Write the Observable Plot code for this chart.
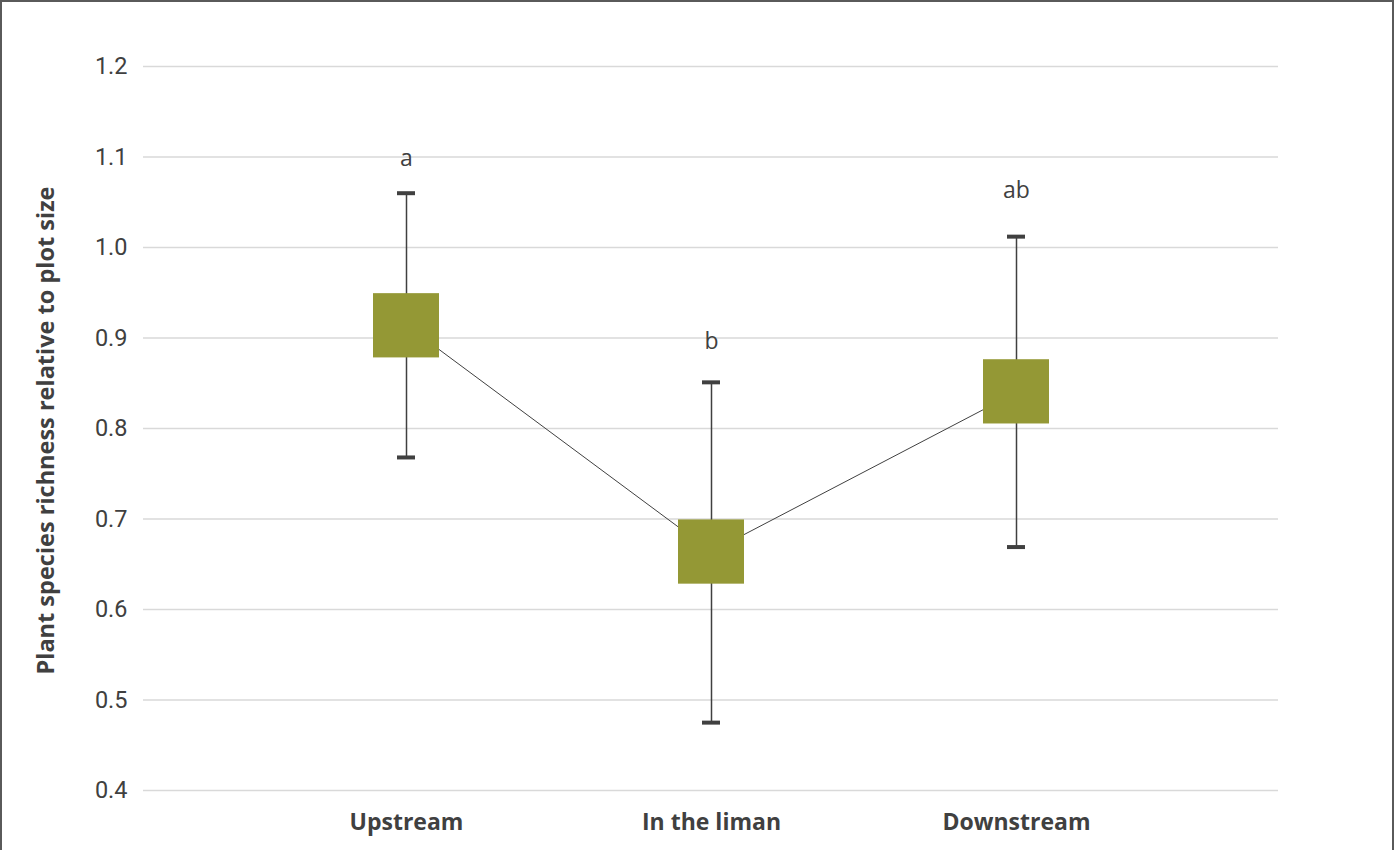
<!DOCTYPE html>
<html>
<head>
<meta charset="utf-8">
<script src="https://cdn.jsdelivr.net/npm/d3@7"></script>
<script src="https://cdn.jsdelivr.net/npm/@observablehq/plot@0.6"></script>
<style>
  html, body { margin: 0; padding: 0; background: #fff; }
  #frame { position: absolute; left: 0; top: 0; width: 1394px; height: 900px; box-sizing: border-box; border: 2px solid #5a5a5a; pointer-events: none; }
  #chart { position: absolute; left: 0; top: 0; }
</style>
</head>
<body>
<div id="chart"></div>
<div id="frame"></div>
<script>
const categories = ["Upstream", "In the liman", "Downstream"];
const means      = [0.914, 0.664, 0.840];
const boxHigh    = [0.949, 0.699, 0.876];
const boxLow     = [0.878, 0.628, 0.805];
const whiskerHigh = [1.060, 0.851, 1.012];
const whiskerLow  = [0.768, 0.475, 0.669];
const letters    = ["a", "b", "ab"];
const letterY    = [1.098, 0.896, 1.063];
const yTicks     = [0.4, 0.5, 0.6, 0.7, 0.8, 0.9, 1.0, 1.1, 1.2];
const yLabel     = "Plant species richness relative to plot size";

const data = categories.map((c, i) => ({
  cat: c, mean: means[i], hi: boxHigh[i], lo: boxLow[i],
  wHi: whiskerHigh[i], wLo: whiskerLow[i], letter: letters[i], ly: letterY[i]
}));

const dark = "#404040";

const chart = Plot.plot({
  width: 1394,
  height: 850,
  marginLeft: 143,
  marginRight: 116,
  marginTop: 66,
  marginBottom: 60,
  style: { fontFamily: "Roboto, sans-serif", color: dark, background: "transparent" },
  x: { type: "band", domain: categories, paddingInner: 0.784, paddingOuter: 0.75 },
  y: { domain: [0.4, 1.2] },
  marks: [
    Plot.gridY(yTicks, { stroke: "#d9d9d9", strokeOpacity: 1, strokeWidth: 1.3 }),
    Plot.axisY(yTicks, {
      tickSize: 0, tickPadding: 16, fontSize: 23.5, fill: dark,
      tickFormat: d3.format(".1f"), label: null
    }),
    Plot.axisX({
      tickSize: 0, tickPadding: 23, fontSize: 23, fontWeight: 700,
      fontFamily: "'Open Sans', sans-serif", fill: dark, label: null
    }),
    Plot.text([yLabel], {
      frameAnchor: "left", textAnchor: "middle", rotate: -90, dx: -97, dy: 2, fontSize: 23.5, fontWeight: 700,
      fontFamily: "'Open Sans', sans-serif", fill: dark
    }),
    Plot.ruleX(data, { x: "cat", y1: "wLo", y2: "wHi", stroke: dark, strokeWidth: 1.5 }),
    Plot.tickY(data, { x: "cat", y: "wHi", stroke: dark, strokeWidth: 4, insetLeft: 24, insetRight: 24 }),
    Plot.tickY(data, { x: "cat", y: "wLo", stroke: dark, strokeWidth: 4, insetLeft: 24, insetRight: 24 }),
    Plot.line(data, { x: "cat", y: "mean", stroke: dark, strokeWidth: 1 }),
    Plot.barY(data, { x: "cat", y1: "lo", y2: "hi", fill: "#949835" }),
    Plot.text(data, {
      x: "cat", y: "ly", text: "letter", fontSize: 23,
      fontFamily: "'Open Sans', sans-serif", fill: dark
    })
  ]
});
document.getElementById("chart").appendChild(chart);
</script>
</body>
</html>
